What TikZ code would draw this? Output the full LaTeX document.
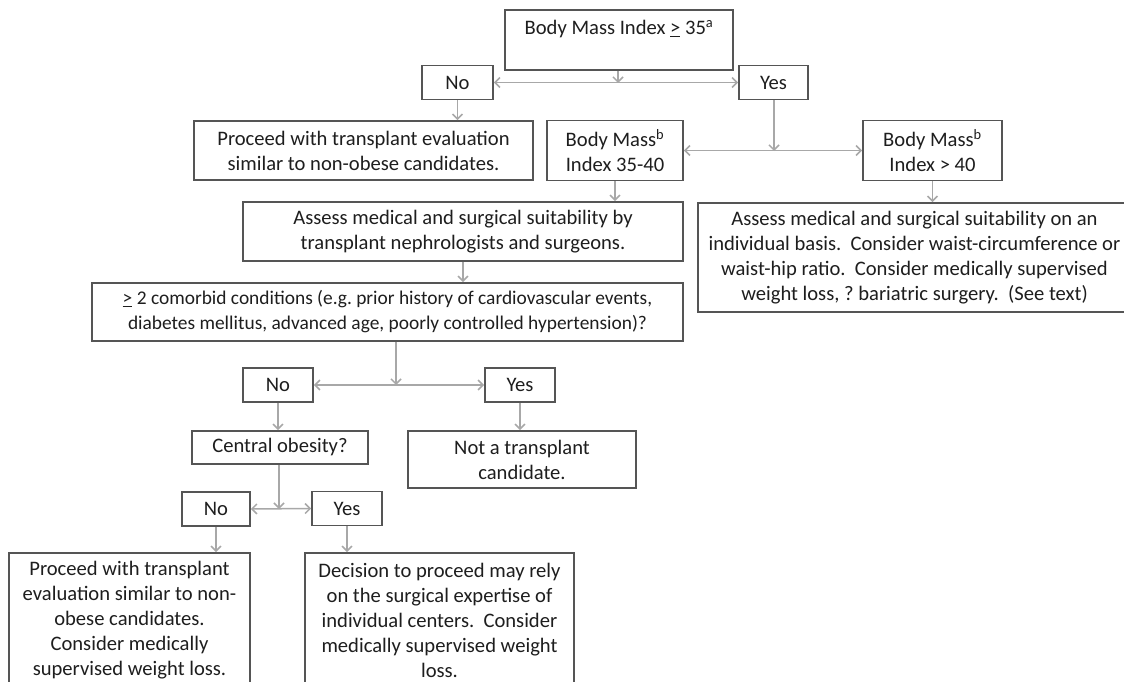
\documentclass[tikz,border=0pt]{standalone}
\usepackage{fontspec}
\setmainfont{Carlito}
\usetikzlibrary{arrows.meta}

\definecolor{boxgray}{HTML}{555555}
\definecolor{linkgray}{HTML}{A8A8A8}
\definecolor{txtgray}{HTML}{1E1E1E}

\tikzset{
  box/.style={draw=boxgray, line width=1.8pt, text=txtgray, align=center, inner sep=2pt},
  link/.style={draw=linkgray, line width=1.5pt, -{Straight Barb[length=5pt,width=10pt]}},
  split/.style={draw=linkgray, line width=1.5pt, {Straight Barb[length=5pt,width=10pt]}-{Straight Barb[length=5pt,width=10pt]}},
}

\begin{document}
\frenchspacing
\begin{tikzpicture}[x=1pt, y=-1pt, font=\fontsize{20.6}{25}\selectfont]
	% page
	\clip (0,0) rectangle (1124,682);
	\fill[white] (0,0) rectangle (1124,682);
	
	\def\hbtn{34pt}
	\def\htwo{59pt}
	
	% first question
	\node[box, minimum width=228pt, minimum height=60pt] (bmi) at (619,40) {Body Mass Index \underline{>} 35\textsuperscript{a}\\ ~};
	\node[box, minimum width=71pt, minimum height=\hbtn] (no1) at (457.5,82.5) {No};
	\node[box, minimum width=69pt, minimum height=\hbtn] (yes1) at (773.5,82.5) {Yes};
	\node[box, minimum width=339pt, minimum height=\htwo] (proc1) at (363.5,150.5) {Proceed with transplant evaluation\\similar to non-obese candidates.};
	\node[box, minimum width=136pt, minimum height=60pt] (bmi3540) at (615,150.5) {Body Mass\textsuperscript{b}\\Index 35-40};
	\node[box, minimum width=139pt, minimum height=60pt] (bmi40) at (932.5,150.5) {Body Mass\textsuperscript{b}\\Index > 40};
	
	% assessment
	\node[box, minimum width=440pt, minimum height=\htwo] (assess1) at (463,231.5) {Assess medical and surgical suitability by\\transplant nephrologists and surgeons.};
	\node[box, minimum width=433pt, minimum height=109pt] (assess2) at (914.5,257.5) {Assess medical and surgical suitability on an\\individual basis.\ \ Consider waist-circumference or\\waist-hip ratio.\ \ Consider medically supervised\\weight loss, ? bariatric surgery.\ \ (See text)};
	\node[box, minimum width=591pt, minimum height=58pt, font=\fontsize{19.4}{25}\selectfont] (comorb) at (387.5,312) {\underline{>} 2 comorbid conditions (e.g. prior history of cardiovascular events,\\diabetes mellitus, advanced age, poorly controlled hypertension)?};
	
	% second question
	\node[box, minimum width=70pt, minimum height=\hbtn] (no2) at (278,385) {No};
	\node[box, minimum width=70pt, minimum height=\hbtn] (yes2) at (520,385) {Yes};
	\node[box, minimum width=176pt, minimum height=33pt] (central) at (280,447.5) {Central obesity?};
	\node[box, minimum width=228pt, minimum height=57pt] (notcand) at (522,459.5) {Not a transplant\\candidate.};
	
	% third question
	\node[box, minimum width=68pt, minimum height=\hbtn] (no3) at (216,509) {No};
	\node[box, minimum width=70pt, minimum height=\hbtn] (yes3) at (347,508.5) {Yes};
	\node[box, minimum width=241pt, minimum height=134pt] (proc2) at (129.5,620) {Proceed with transplant\\evaluation similar to non-\\obese candidates.\\Consider medically\\supervised weight loss.};
	\node[box, minimum width=269pt, minimum height=134pt] (decide) at (439.5,620) {Decision to proceed may rely\\on the surgical expertise of\\individual centers.\ \ Consider\\medically supervised weight\\loss.};
	
	% split points
	\coordinate (s1) at (618,83);
	\coordinate (s2) at (774,151);
	\coordinate (s3) at (396,385);
	\coordinate (s4) at (279,509);
	
	% links
	\draw[link] (bmi.south -| s1) -- (s1);
	\draw[split] (no1.east) -- (yes1.west);
	\draw[link] (no1.south) -- (no1.south |- proc1.north);
	\draw[link] (yes1.south -| s2) -- (s2);
	\draw[split] (bmi3540.east) -- (bmi40.west);
	\draw[link] (bmi3540.south) -- (bmi3540.south |- assess1.north);
	\draw[link] (bmi40.south) -- (bmi40.south |- assess2.north);
	\draw[link] (assess1.south) -- (assess1.south |- comorb.north);
	\draw[link] (comorb.south -| s3) -- (s3);
	\draw[split] (no2.east) -- (yes2.west);
	\draw[link] (no2.south) -- (no2.south |- central.north);
	\draw[link] (yes2.south) -- (yes2.south |- notcand.north);
	\draw[link] (central.south -| s4) -- (s4);
	\draw[split] (no3.east) -- (yes3.west);
	\draw[link] (no3.south) -- (no3.south |- proc2.north);
	\draw[link] (yes3.south) -- (yes3.south |- decide.north);
\end{tikzpicture}
\end{document}
